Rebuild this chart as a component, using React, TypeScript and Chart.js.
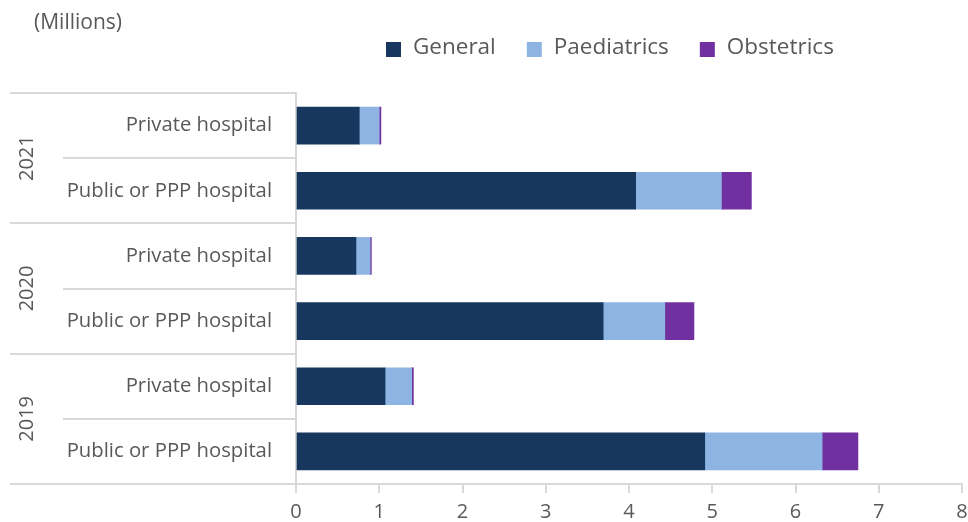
import React, { useEffect, useRef } from "react";
import { Chart, registerables } from "chart.js";

Chart.register(...registerables);

// Rows, top to bottom
const years = ["2021", "2020", "2019"];
const hospitalTypes = ["Private hospital", "Public or PPP hospital"];
const rowLabels = [
  "Private hospital",
  "Public or PPP hospital",
  "Private hospital",
  "Public or PPP hospital",
  "Private hospital",
  "Public or PPP hospital",
];

// Values in millions
const general = [0.76, 4.08, 0.72, 3.69, 1.07, 4.91];
const paediatrics = [0.24, 1.03, 0.17, 0.74, 0.32, 1.41];
const obstetrics = [0.02, 0.36, 0.015, 0.35, 0.02, 0.43];

const seriesNames = ["General", "Paediatrics", "Obstetrics"];
const seriesColors = ["#17375e", "#8db4e2", "#7030a0"];

const xTicks = [0, 1, 2, 3, 4, 5, 6, 7, 8];

const FONT = "'Open Sans', 'Noto Sans', sans-serif";
const TEXT = "#595959";
const LINE = "#d9d9d9";

// Draws the unit note, the legend, the year groups and the row separators
const decorations = {
  id: "decorations",
  afterDraw(chart: any) {
    const { ctx, chartArea, scales } = chart;
    const y = scales.y;
    ctx.save();

    // unit note
    ctx.fillStyle = TEXT;
    ctx.font = `21px ${FONT}`;
    ctx.textAlign = "left";
    ctx.textBaseline = "middle";
    ctx.fillText("(Millions)", 34, 23);

    // legend
    ctx.font = `22.5px ${FONT}`;
    let lx = 386;
    seriesNames.forEach((name, i) => {
      ctx.fillStyle = seriesColors[i];
      ctx.fillRect(lx, 42, 15, 15);
      ctx.fillStyle = TEXT;
      ctx.fillText(name, lx + 27, 48);
      lx += 27 + ctx.measureText(name).width + 31;
    });

    // row boundaries from the category scale
    const rowH = y.getPixelForValue(1) - y.getPixelForValue(0);
    const edge = (i: number) => y.getPixelForValue(i) - rowH / 2;
    const axisX = chartArea.left;

    ctx.strokeStyle = LINE;
    ctx.lineWidth = 2;
    for (let i = 0; i <= rowLabels.length; i++) {
      const yy = Math.round(edge(i));
      const isGroup = i % hospitalTypes.length === 0;
      ctx.beginPath();
      ctx.moveTo(isGroup ? 10 : 63, yy);
      ctx.lineTo(axisX, yy);
      ctx.stroke();
    }

    // year labels, rotated
    ctx.fillStyle = TEXT;
    ctx.font = `20px ${FONT}`;
    ctx.textAlign = "center";
    ctx.textBaseline = "middle";
    years.forEach((yr, g) => {
      const top = edge(g * hospitalTypes.length);
      const bottom = edge((g + 1) * hospitalTypes.length);
      ctx.save();
      ctx.translate(27, (top + bottom) / 2);
      ctx.rotate(-Math.PI / 2);
      ctx.fillText(yr, 0, 0);
      ctx.restore();
    });

    ctx.restore();
  },
};

export default function App() {
  const canvasRef = useRef<HTMLCanvasElement>(null);

  useEffect(() => {
    document.body.style.margin = "0";
    const canvas = canvasRef.current;
    if (!canvas) return;

    const datasets = [general, paediatrics, obstetrics].map((data, i) => ({
      label: seriesNames[i],
      data,
      backgroundColor: seriesColors[i],
      borderWidth: 0,
      barThickness: 37,
    }));

    const chart = new Chart(canvas, {
      type: "bar",
      data: { labels: rowLabels, datasets },
      plugins: [decorations],
      options: {
        indexAxis: "y",
        animation: false,
        responsive: false,
        maintainAspectRatio: false,
        layout: { padding: { top: 93, right: 0, bottom: 0, left: 0 } },
        plugins: {
          legend: { display: false },
          title: { display: false },
          tooltip: { enabled: false },
        },
        scales: {
          x: {
            stacked: true,
            min: 0,
            max: 8,
            afterBuildTicks: (scale: any) => {
              scale.ticks = xTicks.map((v) => ({ value: v }));
            },
            afterFit: (scale: any) => {
              scale.paddingRight = 6;
              scale.height = 38;
            },
            ticks: {
              color: TEXT,
              font: { family: FONT, size: 20, lineHeight: 0.7 },
              padding: 12,
            },
            grid: {
              drawOnChartArea: false,
              drawTicks: true,
              tickLength: 9,
              color: LINE,
              lineWidth: 2,
            },
            border: { display: true, color: LINE, width: 2 },
          },
          y: {
            stacked: true,
            afterFit: (scale: any) => {
              scale.width = 296;
            },
            ticks: {
              color: TEXT,
              font: { family: FONT, size: 20.3 },
              padding: 16,
            },
            grid: { display: false },
            border: { display: true, color: LINE, width: 2 },
          },
        },
      },
    });

    return () => chart.destroy();
  }, []);

  return (
    <div style={{ width: 968, height: 522 }}>
      <canvas ref={canvasRef} width={968} height={522} />
    </div>
  );
}
